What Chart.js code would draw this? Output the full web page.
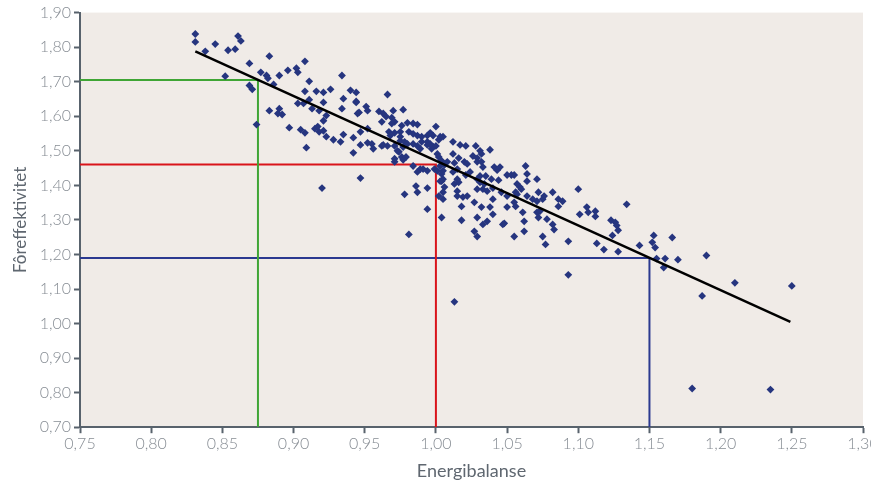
<!DOCTYPE html>
<html>
<head>
<meta charset="utf-8">
<script src="https://cdn.jsdelivr.net/npm/chart.js@4.4.1/dist/chart.umd.min.js"></script>
<style>
  html, body { margin: 0; padding: 0; background: #ffffff; }
  #wrap { width: 871px; height: 486px; }
</style>
</head>
<body>
<div id="wrap"><canvas id="scatterChart" width="871" height="486"></canvas></div>
<script>
// Energibalanse (x) og fôreffektivitet (y) per besetning
const energiX = [
  0.831, 0.831, 0.845, 0.861, 0.863, 0.838, 0.854, 0.859, 0.883, 0.869,
  0.908, 0.852, 0.877, 0.881, 0.882, 0.890, 0.896, 0.902, 0.903, 0.934,
  0.911, 0.869, 0.871, 0.886, 0.908, 0.916, 0.921, 0.926, 0.940, 0.944,
  0.911, 0.903, 0.907, 0.921, 0.935, 0.944, 0.913, 0.918, 0.934, 0.883,
  0.890, 0.892, 0.889, 0.923, 0.921, 0.945, 0.874, 0.897, 0.905, 0.908,
  0.915, 0.917, 0.918, 0.921, 0.923, 0.928, 0.933, 0.935, 0.942, 0.947,
  0.909, 0.942, 0.947,
  0.966, 0.944, 0.951, 0.952, 0.960, 0.970, 0.977, 0.946, 0.962, 0.965,
  0.969, 0.971, 0.969, 0.980, 0.987, 1.000, 0.952, 0.967, 0.975, 0.975,
  0.981, 0.987, 0.990, 0.994, 0.998, 1.002, 1.005, 1.012, 0.952, 0.955,
  0.956, 0.962, 0.966, 0.971, 0.974, 0.976, 0.979, 0.971, 0.984, 0.987,
  0.989, 0.994, 0.997, 0.998, 1.001, 1.012, 0.984, 0.987, 0.989, 1.003,
  1.005, 1.004, 1.012, 1.015, 0.947, 0.920, 0.978, 0.986, 0.987, 0.994,
  1.004, 1.006, 1.005, 1.013, 1.015,
  0.963, 0.976, 0.984, 0.971, 0.968, 0.984, 0.996, 1.003, 0.963, 0.975,
  0.978, 0.980, 0.977, 0.973, 0.990, 0.994, 0.996, 1.000, 1.017, 1.021,
  1.028, 1.031, 1.038, 0.977, 0.971, 1.002, 1.004, 1.006, 1.008, 1.016,
  1.013, 1.020, 1.022, 1.026, 1.029, 1.029, 1.032, 1.033, 1.041, 1.043,
  1.045, 1.063, 0.991, 0.994, 0.999, 1.001, 1.005, 1.003, 1.015, 1.016,
  1.021, 1.024, 1.029, 1.031, 1.035, 1.039, 1.044, 1.050, 1.053, 1.055,
  1.064, 1.057, 1.059, 1.056, 1.064, 1.071, 1.002, 1.005, 1.015, 1.019,
  1.022, 1.029, 1.033, 1.036, 1.040, 1.046, 1.050, 1.057, 1.055, 1.056,
  1.064, 1.071, 1.075, 1.076, 1.082, 0.994, 1.018, 1.027, 1.032, 1.038,
  1.040, 1.050, 1.061, 1.062, 1.071, 1.072, 1.078, 1.082, 1.083, 1.004,
  1.018, 1.029, 1.036, 1.033, 1.047, 1.027, 1.029, 1.055, 1.062, 1.075,
  0.981,
  1.032, 1.031, 1.034, 1.060, 1.072, 1.068, 1.086, 1.089, 1.100, 1.086,
  1.040, 1.073, 1.101, 1.106, 1.107, 1.112, 1.112, 1.134, 1.048, 1.077,
  1.093, 1.123, 1.126, 1.127, 1.128, 1.124, 1.113, 1.118, 1.128, 1.143,
  1.153, 1.152, 1.154, 1.093,
  1.155, 1.161, 1.160, 1.166, 1.170, 1.190, 1.210, 1.187, 1.250, 1.013,
  1.180, 1.235
];
const foreffY = [
  1.838, 1.815, 1.809, 1.832, 1.818, 1.788, 1.791, 1.794, 1.774, 1.753,
  1.759, 1.716, 1.727, 1.718, 1.710, 1.718, 1.733, 1.739, 1.727, 1.718,
  1.701, 1.689, 1.678, 1.692, 1.672, 1.672, 1.669, 1.678, 1.675, 1.669,
  1.648, 1.637, 1.637, 1.640, 1.651, 1.640, 1.622, 1.616, 1.622, 1.616,
  1.622, 1.605, 1.608, 1.602, 1.587, 1.608, 1.576, 1.567, 1.561, 1.552,
  1.564, 1.570, 1.555, 1.558, 1.541, 1.532, 1.526, 1.547, 1.538, 1.555,
  1.509, 1.494, 1.517,
  1.663, 1.643, 1.628, 1.616, 1.614, 1.616, 1.619, 1.611, 1.584, 1.599,
  1.596, 1.584, 1.579, 1.581, 1.576, 1.570, 1.564, 1.555, 1.555, 1.541,
  1.555, 1.544, 1.541, 1.544, 1.544, 1.532, 1.541, 1.526, 1.523, 1.520,
  1.506, 1.514, 1.514, 1.514, 1.497, 1.482, 1.482, 1.477, 1.520, 1.514,
  1.506, 1.517, 1.506, 1.512, 1.491, 1.491, 1.456, 1.439, 1.447, 1.456,
  1.442, 1.433, 1.439, 1.447, 1.421, 1.392, 1.374, 1.398, 1.380, 1.392,
  1.412, 1.395, 1.380, 1.404, 1.383,
  1.608, 1.573, 1.579, 1.552, 1.544, 1.549, 1.552, 1.541, 1.517, 1.529,
  1.526, 1.520, 1.511, 1.500, 1.526, 1.526, 1.520, 1.514, 1.517, 1.514,
  1.514, 1.500, 1.503, 1.474, 1.468, 1.482, 1.471, 1.459, 1.468, 1.479,
  1.465, 1.468, 1.462, 1.485, 1.479, 1.468, 1.468, 1.453, 1.453, 1.444,
  1.453, 1.456, 1.447, 1.442, 1.447, 1.442, 1.418, 1.412, 1.418, 1.409,
  1.430, 1.439, 1.418, 1.427, 1.427, 1.418, 1.415, 1.430, 1.430, 1.430,
  1.433, 1.404, 1.395, 1.380, 1.412, 1.418, 1.369, 1.360, 1.369, 1.366,
  1.369, 1.389, 1.389, 1.383, 1.392, 1.380, 1.369, 1.374, 1.351, 1.339,
  1.369, 1.354, 1.360, 1.369, 1.380, 1.331, 1.339, 1.351, 1.337, 1.337,
  1.316, 1.337, 1.322, 1.296, 1.322, 1.307, 1.302, 1.287, 1.272, 1.307,
  1.299, 1.307, 1.296, 1.287, 1.287, 1.267, 1.252, 1.252, 1.267, 1.252,
  1.258,
  1.491, 1.409, 1.404, 1.389, 1.380, 1.360, 1.360, 1.354, 1.389, 1.339,
  1.360, 1.325, 1.316, 1.337, 1.322, 1.325, 1.310, 1.345, 1.290, 1.229,
  1.238, 1.299, 1.293, 1.284, 1.270, 1.255, 1.232, 1.214, 1.208, 1.226,
  1.255, 1.235, 1.220, 1.141,
  1.188, 1.188, 1.162, 1.249, 1.185, 1.197, 1.118, 1.080, 1.109, 1.063,
  0.812, 0.809
];

// Trendlinje (endepunkter)
const trendX = [0.831, 1.249];
const trendY = [1.788, 1.005];

// Hjelpelinjer: energibalanse -> fôreffektivitet
const refX = [0.875, 1.00, 1.15];
const refY = [1.705, 1.46, 1.19];
const refColors = ["#3fa535", "#d9141b", "#2b3990"];

const xMin = 0.75, xMax = 1.30;
const yMin = 0.70, yMax = 1.90;

const points = energiX.map((x, i) => ({ x: x, y: foreffY[i] }));

const refSets = refX.map((x, i) => ({
  type: "line",
  data: [{ x: xMin, y: refY[i] }, { x: x, y: refY[i] }, { x: x, y: yMin }],
  borderColor: refColors[i],
  borderWidth: 2,
  pointRadius: 0,
  fill: false,
  tension: 0,
  order: 3,
}));

const plotBg = {
  id: "plotBg",
  beforeDraw(chart) {
    const a = chart.chartArea;
    const c = chart.ctx;
    c.save();
    c.fillStyle = "#f0ebe7";
    c.fillRect(a.left, a.top, a.right - a.left, a.bottom - a.top);
    c.restore();
  },
};

const comma = (v) => Number(v).toFixed(2).replace(".", ",");
const axisColor = "#58626c";
const tickColor = "#878d94";
const titleColor = "#5f6770";

const ctx = document.getElementById("scatterChart").getContext("2d");
new Chart(ctx, {
  type: "scatter",
  data: {
    datasets: [
      {
        type: "line",
        data: trendX.map((x, i) => ({ x: x, y: trendY[i] })),
        borderColor: "#000000",
        borderWidth: 2.5,
        pointRadius: 0,
        fill: false,
        order: 0,
      },
      {
        data: points,
        backgroundColor: "#26357f",
        borderColor: "#26357f",
        pointStyle: "rectRot",
        pointRadius: 3.9,
        borderWidth: 0,
        order: 1,
      },
      ...refSets,
    ],
  },
  options: {
    responsive: false,
    animation: false,
    layout: { padding: { left: 6, right: 8, top: 11, bottom: 3 } },
    plugins: {
      legend: { display: false },
      tooltip: { enabled: false },
    },
    scales: {
      x: {
        type: "linear",
        min: xMin,
        max: xMax,
        ticks: {
          stepSize: 0.05,
          color: tickColor,
          font: { family: "Lato", size: 16, weight: "300" },
          padding: 1,
          callback: comma,
        },
        grid: { drawOnChartArea: false, color: axisColor, tickLength: 6, tickWidth: 2 },
        border: { color: axisColor, width: 2 },
        title: {
          display: true,
          text: "Energibalanse",
          color: titleColor,
          font: { family: "Lato", size: 18 },
          padding: { top: 6, bottom: 1 },
        },
        afterFit(s) {
          s.paddingLeft = 0;
          s.paddingRight = 0;
        },
      },
      y: {
        min: yMin,
        max: yMax,
        ticks: {
          stepSize: 0.1,
          color: tickColor,
          font: { family: "Lato", size: 16, weight: "300" },
          padding: 3,
          callback: comma,
        },
        grid: { drawOnChartArea: false, color: axisColor, tickLength: 6, tickWidth: 2 },
        border: { color: axisColor, width: 2 },
        title: {
          display: true,
          text: "Fôreffektivitet",
          color: titleColor,
          font: { family: "Lato", size: 17 },
          padding: { bottom: 2 },
        },
        afterFit(s) {
          s.width = 74;
        },
      },
    },
  },
  plugins: [plotBg],
});
</script>
</body>
</html>
